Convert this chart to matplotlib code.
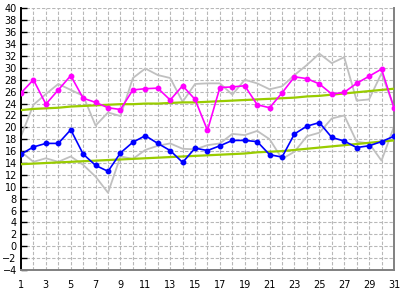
import numpy as np
import matplotlib
matplotlib.use("Agg")
import matplotlib.pyplot as plt

days = np.arange(1, 32)

# max temperature (this month)
t_max = [25.8, 28.0, 23.9, 26.3, 28.7, 24.9, 24.2, 23.3, 23.0, 26.3, 26.5,
         26.6, 24.6, 27.0, 24.7, 19.5, 26.7, 26.8, 27.0, 23.8, 23.3,
         25.8, 28.5, 28.2, 27.3, 25.6, 25.9, 27.4, 28.6, 29.8, 23.3]
# min temperature (this month)
t_min = [15.5, 16.7, 17.3, 17.3, 19.6, 15.5, 13.6, 12.6, 15.7, 17.5, 18.6,
         17.3, 16.1, 14.1, 16.5, 16.1, 16.9, 17.8, 17.8, 17.6, 15.4,
         15.0, 18.9, 20.2, 20.8, 18.3, 17.7, 16.6, 16.9, 17.6, 18.5]
# normals
n_max = [22.9, 23.1, 23.2, 23.3, 23.5, 23.6, 23.7, 23.8, 23.9, 23.9, 24.0,
         24.0, 24.1, 24.2, 24.2, 24.3, 24.4, 24.5, 24.6, 24.7, 24.8,
         24.9, 25.0, 25.2, 25.3, 25.5, 25.7, 25.9, 26.1, 26.3, 26.5]
n_min = [13.8, 13.9, 14.0, 14.1, 14.2, 14.3, 14.4, 14.5, 14.6, 14.7, 14.8,
         14.9, 15.0, 15.1, 15.2, 15.3, 15.4, 15.5, 15.6, 15.8, 15.9,
         16.0, 16.2, 16.4, 16.6, 16.8, 17.0, 17.2, 17.4, 17.6, 17.8]
# last year
p_max = [18.5, 23.8, 25.6, 27.3, 26.3, 25.3, 20.3, 22.5, 21.9, 28.3, 29.9,
         28.8, 28.3, 24.3, 27.3, 27.4, 27.4, 25.5, 28.0, 27.4, 26.4,
         26.9, 28.8, 30.5, 32.4, 30.8, 31.8, 24.5, 24.7, 29.1, 23.4]
p_min = [15.9, 14.2, 14.8, 14.2, 15.1, 13.7, 11.7, 9.0, 15.1, 14.7, 16.2,
         16.9, 17.3, 16.4, 16.3, 17.0, 17.3, 18.9, 18.7, 19.4, 18.0,
         14.7, 15.9, 18.5, 19.1, 21.5, 22.0, 17.6, 17.3, 14.4, 20.1]

fig = plt.figure(figsize=(4.01, 2.89), dpi=100)
ax = fig.add_axes([0.0524, 0.0657, 0.930, 0.905])

ax.plot(days, p_max, color="#c0c0c0", lw=1.3, zorder=2)
ax.plot(days, p_min, color="#c0c0c0", lw=1.3, zorder=2)
ax.plot(days, n_max, color="#99cc00", lw=1.6, zorder=3)
ax.plot(days, n_min, color="#99cc00", lw=1.6, zorder=3)
ax.plot(days, t_max, color="#ff00ff", lw=1.2, marker="o", ms=3.2, zorder=4)
ax.plot(days, t_min, color="#0000ff", lw=1.2, marker="o", ms=3.2, zorder=4)

ax.set_xlim(1, 31)
ax.set_ylim(-4, 40)
ax.set_xticks(days, minor=True)
ax.set_xticks(np.arange(1, 32, 2))
ax.set_yticks(np.arange(-4, 41, 2))
ax.grid(True, which="both", color="#b8b8b8", ls=(0, (3, 1.6)), lw=0.8, zorder=1)
ax.tick_params(axis="y", direction="in", length=4, width=1, color="black",
               labelsize=7, pad=3)
ax.tick_params(axis="x", which="both", length=0, labelsize=7, pad=7)

ax.spines["top"].set_visible(False)
ax.spines["left"].set_color("black")
ax.spines["bottom"].set_color("#808080")
ax.spines["right"].set_color("#808080")
for s in ax.spines.values():
    s.set_linewidth(1.4)

fig.savefig("out.png", dpi=100)
